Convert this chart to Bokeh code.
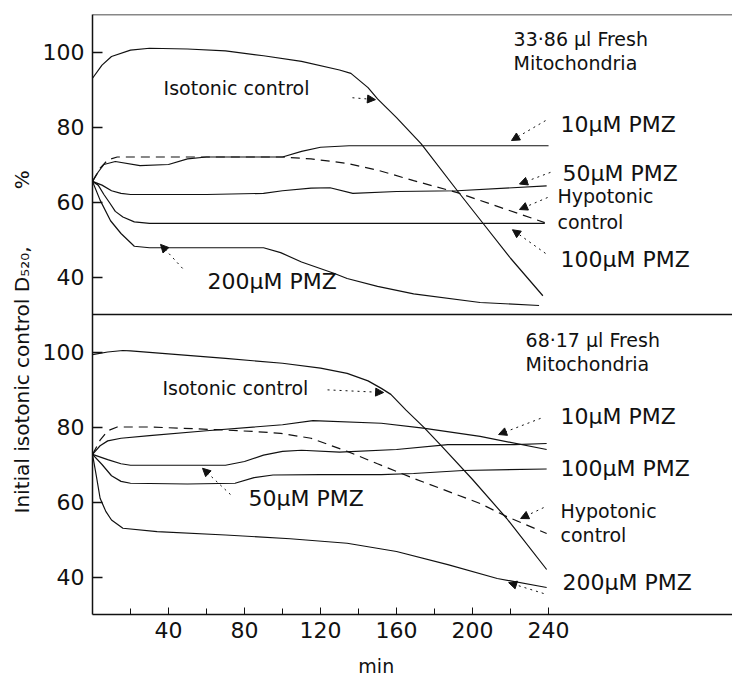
from bokeh.plotting import figure
from bokeh.models import (Range1d, LinearAxis, FixedTicker, Span, Arrow, Title,
                          NormalHead, ColumnDataSource)
from bokeh.core.properties import value
from bokeh.embed import file_html
from bokeh.resources import INLINE

# ---------------- data (time in min, value in % of initial isotonic control D520) -------------
# Upper panel: 33.86 ul fresh mitochondria
t_iso_top = [0, 5, 10, 20, 30, 50, 70, 90, 110, 130, 136, 145, 150, 160, 173, 192, 206, 220, 237]
v_iso_top = [93, 96.5, 98.8, 100.5, 101, 100.8, 100.3, 99, 97.5, 95.2, 94.3, 90.5, 87.5, 82.5, 75.5, 63, 54, 45, 35]

t_10_top = [0, 3, 6, 12, 25, 40, 50, 60, 100, 110, 120, 135, 240]
v_10_top = [65.5, 68, 70, 70.8, 69.7, 70, 71.5, 72, 72, 73.5, 74.6, 75, 75]

t_hypo_top = [0, 4, 8, 13, 100, 115, 134, 150, 169, 192, 215, 238]
v_hypo_top = [65.5, 69, 71.2, 72, 72, 71.5, 70.3, 68.5, 65.7, 62.5, 58.5, 54.5]

t_50_top = [0, 5, 10, 15, 20, 60, 90, 100, 115, 125, 137, 160, 192, 239]
v_50_top = [65.5, 64.5, 63, 62.3, 62, 62, 62.3, 63, 63.7, 63.8, 62.3, 62.8, 63, 64.3]

t_100_top = [0, 3, 6, 9, 12, 16, 22, 30, 238]
v_100_top = [65.5, 64.5, 62, 59.8, 57.5, 56, 54.7, 54.3, 54.3]

t_200_top = [0, 4, 9.5, 15, 22, 30, 90, 99, 110, 127, 134, 150, 169, 204, 235]
v_200_top = [65.5, 60.5, 55, 51.6, 48.2, 47.8, 47.8, 46.5, 44, 41, 39.6, 37.5, 35.5, 33.2, 32.4]

# Lower panel: 68.17 ul fresh mitochondria
t_iso_bot = [0, 8, 16, 20, 40, 70, 100, 120, 134, 145, 152, 157, 165, 174, 183, 200, 218, 239]
v_iso_bot = [99.3, 100, 100.4, 100.3, 99.5, 98.3, 97, 95.7, 94.3, 92.3, 90.3, 88.7, 84.5, 80.1, 75.3, 66, 55.6, 42]

t_10_bot = [0, 4, 8, 15, 30, 60, 100, 116, 152, 174, 204, 239]
v_10_bot = [72.7, 75, 76.3, 77, 77.7, 79, 80.6, 81.7, 81, 79.7, 77.5, 74]

t_hypo_bot = [0, 4, 8, 13, 30, 65, 85, 99, 115, 134, 150, 169, 204, 218, 239]
v_hypo_bot = [72.7, 76.5, 79, 80, 80, 79.3, 78.8, 78.3, 77, 73.5, 70.2, 66.3, 59.6, 56.1, 51.6]

t_50_bot = [0, 8, 15, 20, 50, 70, 80, 90, 100, 110, 130, 160, 187, 222, 239]
v_50_bot = [72.7, 71.3, 70.2, 69.8, 69.8, 69.8, 70.8, 72.5, 73.5, 73.8, 73.3, 74, 75.3, 75.3, 75.6]

t_100_bot = [0, 5, 10, 15, 20, 50, 75, 85, 95, 120, 152, 169, 195, 239]
v_100_bot = [72.7, 70, 67, 65.5, 65, 64.8, 65, 66.5, 67.2, 67.3, 67.3, 67.6, 68.4, 68.8]

t_200_bot = [0, 2, 4, 7, 10, 16, 34, 70, 104, 134, 160, 187, 213, 239]
v_200_bot = [72.7, 67, 61, 57.5, 55.2, 53, 52.1, 51.2, 50.2, 49, 46.8, 43.3, 39.6, 37.2]

x_major_ticks = [40, 80, 120, 160, 200, 240]
x_minor_ticks = [20, 60, 100, 140, 180, 220]
y_ticks = [40, 60, 80, 100]
x_label = "min"
y_label = "Initial isotonic control D\u2085\u2082\u2080," + "\u00a0" * 9 + "%"

# ---------------- layout constants ----------------
LO, HI = 30, 110
SPAN = HI - LO
X_MAX = 336.8
FONT = "DejaVu Sans"
INK = "#111111"

p = figure(width=732, height=684, output_backend="svg", toolbar_location=None,
           x_range=Range1d(0, X_MAX), y_range=Range1d(LO, HI + SPAN),
           min_border_left=92, min_border_right=0, min_border_top=14, min_border_bottom=70,
           x_axis_location=None, y_axis_location=None)
p.extra_y_ranges = {"top": Range1d(LO - SPAN, HI)}
p.grid.visible = False
p.outline_line_color = None
p.background_fill_color = "white"
p.border_fill_color = "white"

# y axis: lower panel ticks on the main range, upper panel ticks shifted by one panel span
y_positions = y_ticks + [t + SPAN for t in y_ticks]
y_overrides = {t + SPAN: str(t) for t in y_ticks}
yax = LinearAxis(ticker=FixedTicker(ticks=y_positions), major_label_overrides=y_overrides)
yax.major_tick_in = 10
yax.major_tick_out = 0
yax.minor_tick_line_color = None
yax.major_label_standoff = 8
yax.axis_line_width = 1.5
yax.axis_line_color = INK
yax.major_tick_line_color = INK
yax.major_tick_line_width = 1.3
yax.major_label_text_font = FONT
yax.major_label_text_font_size = "22px"
yax.major_label_text_color = INK
p.add_layout(yax, "left")

# x axis; its title sits left of the frame centre (padded on the right with no-break spaces)
xax = LinearAxis(ticker=FixedTicker(ticks=x_major_ticks, minor_ticks=x_minor_ticks),
                 axis_label=x_label + "\u00a0" * 12)
xax.major_tick_in = 7
xax.major_tick_out = 0
xax.minor_tick_in = 6
xax.minor_tick_out = 0
xax.major_label_standoff = 7
xax.axis_line_width = 1.5
xax.axis_line_color = INK
xax.major_tick_line_color = INK
xax.minor_tick_line_color = INK
xax.major_label_text_font = FONT
xax.major_label_text_font_size = "22px"
xax.major_label_text_color = INK
xax.axis_label_standoff = 14
xax.axis_label_text_font = FONT
xax.axis_label_text_font_size = "19px"
xax.axis_label_text_font_style = "normal"
xax.axis_label_text_color = INK
p.add_layout(xax, "below")

# y-axis title as a side-panel title (not clipped by the frame)
p.add_layout(Title(text=y_label, align="left", offset=101, standoff=12,
                   text_font=FONT, text_font_size="20px", text_font_style="normal",
                   text_color=INK), "left")

# frame top line and panel separator
p.add_layout(Span(location=HI + SPAN, dimension="width", line_color=INK, line_width=1.5))
p.add_layout(Span(location=HI, dimension="width", line_color=INK, line_width=1.5))

# ---------------- curves ----------------
solid = dict(line_color=INK, line_width=1.2, line_join="round")
dashed = dict(line_color=INK, line_width=1.2, line_dash="9 6")
for t, v in [(t_iso_top, v_iso_top), (t_10_top, v_10_top), (t_50_top, v_50_top),
             (t_100_top, v_100_top), (t_200_top, v_200_top)]:
    p.line(t, v, y_range_name="top", **solid)
p.line(t_hypo_top, v_hypo_top, y_range_name="top", **dashed)

for t, v in [(t_iso_bot, v_iso_bot), (t_10_bot, v_10_bot), (t_50_bot, v_50_bot),
             (t_100_bot, v_100_bot), (t_200_bot, v_200_bot)]:
    p.line(t, v, **solid)
p.line(t_hypo_bot, v_hypo_bot, **dashed)

# ---------------- annotations ----------------
top_labels = dict(
    x=[221.6, 221.6, 37.4, 246.3, 247.4, 244.7, 244.7, 246.3, 60.5],
    y=[103.6, 97.2, 90.3, 80.7, 67.6, 61.7, 54.8, 44.7, 38.8],
    text=["33\u00b786 \u03bcl  Fresh", "Mitochondria", "Isotonic  control", "10\u03bcM PMZ",
          "50\u03bcM PMZ", "Hypotonic", "control", "100\u03bcM PMZ", "200\u03bcM PMZ"],
    size=["19px", "19px", "19px", "22px", "22px", "19px", "19px", "22px", "22px"],
)
bot_labels = dict(
    x=[227.9, 227.9, 36.8, 246.3, 246.3, 246.3, 246.3, 247.4, 82.1],
    y=[103.1, 96.7, 90.5, 82.8, 68.9, 57.7, 51.3, 38.5, 60.9],
    text=["68\u00b717 \u03bcl  Fresh", "Mitochondria", "Isotonic  control", "10\u03bcM PMZ",
          "100\u03bcM PMZ", "Hypotonic", "control", "200\u03bcM PMZ", "50\u03bcM PMZ"],
    size=["19px", "19px", "19px", "22px", "22px", "19px", "19px", "22px", "22px"],
)
text_style = dict(x="x", y="y", text="text", text_font=value(FONT),
                  text_font_size=dict(field="size"), text_color=INK,
                  text_align="left", text_baseline="middle")
p.text(source=ColumnDataSource(top_labels), y_range_name="top", **text_style)
p.text(source=ColumnDataSource(bot_labels), **text_style)

# arrows: (x_tail, y_tail, x_tip, y_tip)
top_arrows = [(136.8, 87.8, 148.9, 87.3), (238.4, 81.7, 220.5, 76.4), (241.0, 67.9, 224.7, 64.8),
              (239.5, 61.2, 224.7, 58.0), (238.4, 46.3, 221.0, 52.6), (47.4, 42.3, 35.8, 48.7)]
bot_arrows = [(123.7, 89.9, 153.2, 89.2), (235.8, 82.3, 213.7, 78.0), (237.4, 58.5, 225.3, 55.6),
              (237.4, 35.6, 219.0, 38.5), (72.6, 62.0, 57.9, 69.0)]
for rng, arrows in [("top", top_arrows), ("default", bot_arrows)]:
    for xs, ys, xe, ye in arrows:
        p.add_layout(Arrow(x_start=xs, y_start=ys, x_end=xe, y_end=ye,
                           end=NormalHead(size=8, fill_color=INK, line_color=INK, line_width=1),
                           line_color=INK, line_width=1, line_dash="2 4",
                           y_range_name=rng))

open("out.html", "w").write(file_html(p, INLINE))
